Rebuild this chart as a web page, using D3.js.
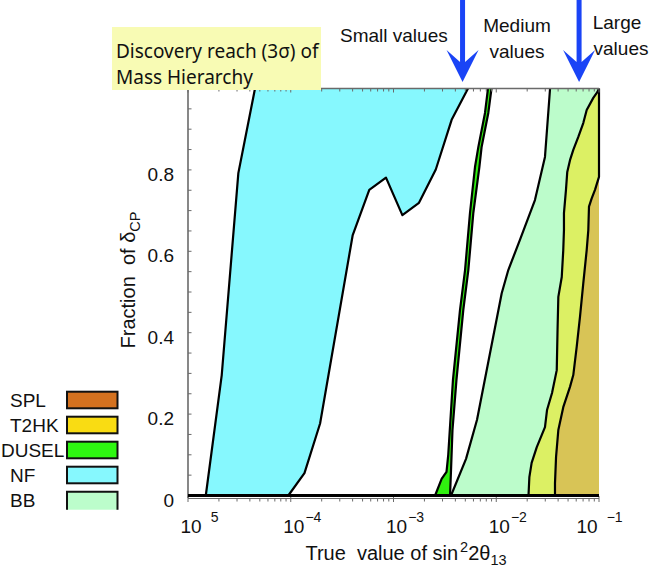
<!DOCTYPE html>
<html>
<head>
<meta charset="utf-8">
<script src="https://cdn.jsdelivr.net/npm/d3@7"></script>
<style>
  html, body { margin: 0; padding: 0; background: #fff; }
  svg { display: block; }
  text { font-family: "Liberation Sans", Arial, sans-serif; fill: #111; white-space: pre; }
</style>
</head>
<body>
<svg id="chart" width="654" height="569"></svg>
<script>
// ---------------- data ----------------
// x = true value of sin^2(2 theta13), y = fraction of deltaCP
const xDomain = [1e-5, 1e-1];
const yDomain = [0, 1];

// NF region (closed outline: left edge bottom->top, then right edge top->bottom)
const nfX = [1.49e-5, 2.13e-5, 3.09e-5, 4.49e-5, 5.31e-3, 3.68e-3, 2.58e-3, 1.77e-3, 1.22e-3, 8.45e-4, 5.81e-4, 4.01e-4, 1.93e-4, 1.36e-4, 9.47e-5];
const nfY = [0, 0.296, 0.792, 1, 1, 0.923, 0.801, 0.719, 0.689, 0.781, 0.751, 0.640, 0.177, 0.055, 0];

// DUSEL thin band: left edge bottom->top, right edge top->bottom
const duselLeftX = [2.54e-3, 2.94e-3, 3.28e-3, 3.41e-3, 3.79e-3, 4.44e-3, 4.97e-3, 5.55e-3, 6.21e-3, 6.69e-3, 7.77e-3, 8.31e-3];
const duselLeftY = [0, 0.041, 0.058, 0.100, 0.284, 0.456, 0.554, 0.694, 0.807, 0.856, 0.940, 1];
const duselRightX = [8.99e-3, 8.37e-3, 7.20e-3, 6.85e-3, 5.98e-3, 5.35e-3, 4.78e-3, 4.10e-3, 3.75e-3, 3.63e-3, 3.55e-3];
const duselRightY = [1, 0.940, 0.856, 0.807, 0.694, 0.554, 0.456, 0.284, 0.161, 0.063, 0];

// BB left edge (region extends to the right edge)
const bbX = [3.63e-3, 5.08e-3, 6.50e-3, 1.13e-2, 1.31e-2, 1.70e-2, 2.38e-2, 2.98e-2, 3.34e-2];
const bbY = [0, 0.090, 0.186, 0.497, 0.554, 0.628, 0.726, 0.832, 1];

// T2HK left edge
const t2hkX = [2.06e-2, 2.10e-2, 2.21e-2, 2.48e-2, 2.98e-2, 3.12e-2, 3.49e-2, 3.88e-2, 3.95e-2, 4.02e-2, 4.34e-2, 4.49e-2, 4.56e-2, 4.56e-2, 4.77e-2, 4.91e-2, 5.22e-2, 5.62e-2, 6.29e-2, 7.03e-2, 7.59e-2, 8.80e-2, 9.63e-2, 1e-1];
const t2hkY = [0, 0.045, 0.080, 0.119, 0.168, 0.210, 0.252, 0.308, 0.407, 0.488, 0.537, 0.603, 0.652, 0.694, 0.751, 0.795, 0.824, 0.849, 0.881, 0.915, 0.947, 0.977, 0.991, 1];

// SPL left edge
const splX = [3.73e-2, 3.73e-2, 3.82e-2, 4.02e-2, 4.49e-2, 5.22e-2, 5.62e-2, 6.07e-2, 6.53e-2, 7.03e-2, 7.59e-2, 7.87e-2, 7.99e-2, 8.49e-2, 9.14e-2, 1e-1, 1e-1];
const splY = [0, 0.030, 0.095, 0.161, 0.217, 0.267, 0.296, 0.366, 0.439, 0.521, 0.603, 0.652, 0.710, 0.730, 0.751, 0.783, 1];

// ticks & labels
const xTickExps = [-5, -4, -3, -2, -1];
const xTickSup = ["5", "\u22124", "\u22123", "\u22122", "\u22121"];
const yTickValues = [0, 0.2, 0.4, 0.6, 0.8];
const yMinorStep = 0.05;

// arrows (positions on the x axis) and their captions
const arrowValues = [4.7e-3, 6.4e-2];

// legend
const legendNames = ["SPL", "T2HK", "DUSEL", "NF", "BB"];
const legendColors = ["#d4711f", "#f9dc13", "#2ef711", "#86f8fe", "#bcfdcb"];

// colors as seen in the plot area (overlapping regions)
const fillNF = "#86f8fe", fillDUSEL = "#30f00f", fillBB = "#bcfccb", fillT2HK = "#dcf064", fillSPL = "#d8c456";

// ---------------- drawing ----------------
const svg = d3.select("#chart");
const x = d3.scaleLog().domain(xDomain).range([188, 599]);
const y = d3.scaleLinear().domain(yDomain).range([495.5, 88.5]);

const zip = (xs, ys) => xs.map((v, i) => [v, ys[i]]);
const line = d3.line().x(d => x(d[0])).y(d => y(d[1]));
const [x0, x1] = xDomain;

const nfPts = zip(nfX, nfY);
const duselPts = zip(duselLeftX, duselLeftY).concat(zip(duselRightX, duselRightY));
const bbPts = zip(bbX, bbY);
const t2Pts = zip(t2hkX, t2hkY);
const splPts = zip(splX, splY);

const gPlot = svg.append("g");
// fills
gPlot.append("path").attr("d", line(nfPts) + "Z").attr("fill", fillNF);
gPlot.append("path").attr("d", line(bbPts.concat([[x1, 1], [x1, 0]])) + "Z").attr("fill", fillBB);
gPlot.append("path").attr("d", line(duselPts) + "Z").attr("fill", fillDUSEL);
gPlot.append("path").attr("d", line(t2Pts.concat([[x1, 0]])) + "Z").attr("fill", fillT2HK);
gPlot.append("path").attr("d", line(splPts.slice(0, splPts.length - 1).concat([[x1, 0]])) + "Z").attr("fill", fillSPL);

// boundary lines
const strokes = [
  nfPts.slice(0, 4), nfPts.slice(4),
  zip(duselLeftX, duselLeftY), zip(duselRightX, duselRightY),
  bbPts, t2Pts, splPts
];
gPlot.selectAll("path.edge").data(strokes).join("path")
  .attr("class", "edge")
  .attr("d", line)
  .attr("fill", "none")
  .attr("stroke", "#000")
  .attr("stroke-width", 2.2)
  .attr("stroke-linejoin", "round");

// frame
const frame = svg.append("g").attr("stroke", "#6a6a6a").attr("fill", "none");
frame.append("line").attr("x1", x(x0)).attr("x2", x(x0)).attr("y1", y(1)).attr("y2", 498).attr("stroke-width", 1.6);
frame.append("line").attr("x1", x(x0)).attr("x2", x(x1)).attr("y1", y(1)).attr("y2", y(1)).attr("stroke-width", 1.6);
frame.append("line").attr("x1", x(x0)).attr("x2", x(x1)).attr("y1", 498.5).attr("y2", 498.5).attr("stroke-width", 1);

// log ticks (bottom outward, top inward)
const logTicks = x.ticks();
logTicks.forEach(t => {
  const major = Math.abs(Math.log10(t) - Math.round(Math.log10(t))) < 1e-6;
  frame.append("line").attr("x1", x(t)).attr("x2", x(t))
    .attr("y1", major ? 496 : 498.5).attr("y2", major ? 502 : 501.5).attr("stroke-width", 1);
  frame.append("line").attr("x1", x(t)).attr("x2", x(t))
    .attr("y1", y(1)).attr("y2", y(1) + (major ? 4 : 3)).attr("stroke-width", 1);
});
// y minor ticks inward
d3.range(0, 1.0001, yMinorStep).forEach(v => {
  frame.append("line").attr("x1", x(x0)).attr("x2", x(x0) + 3.5)
    .attr("y1", y(v)).attr("y2", y(v)).attr("stroke-width", 1);
});

// thick bottom line
svg.append("line").attr("x1", x(x0)).attr("x2", x(x1)).attr("y1", y(0)).attr("y2", y(0))
  .attr("stroke", "#000").attr("stroke-width", 3);

// y tick labels
svg.selectAll("text.ytl").data(yTickValues).join("text")
  .attr("class", "ytl")
  .attr("x", 174).attr("y", d => y(d) + 11)
  .attr("text-anchor", "end")
  .style("font-size", "19px")
  .text(d => d === 0 ? "0" : d3.format(".1f")(d));

// x tick labels
xTickExps.forEach((e, i) => {
  const last = i === xTickExps.length - 1;
  const first = i === 0;
  const cx = x(Math.pow(10, e)) + (last ? -12 : 3);
  const t = svg.append("text").attr("x", cx - 10.5).attr("y", 533).style("font-size", "19px");
  t.append("tspan").text("10");
  t.append("tspan").attr("dx", (first || last) ? 9 : 1).attr("dy", -11).style("font-size", "14px").text(xTickSup[i]);
});

// axis titles
const xt = svg.append("text").attr("x", 406).attr("y", 560).attr("text-anchor", "middle").style("font-size", "20px");
xt.append("tspan").text("True  value of sin");
xt.append("tspan").attr("dx", 2).attr("dy", -8).style("font-size", "14.5px").text("2");
xt.append("tspan").attr("dy", 8).text("2\u03b8");
xt.append("tspan").attr("dy", 5).style("font-size", "14.5px").text("13");

const yt = svg.append("text").attr("transform", "translate(135,280) rotate(-90)").attr("text-anchor", "middle").style("font-size", "20px");
yt.append("tspan").text("Fraction  of \u03b4");
yt.append("tspan").attr("dy", 5).style("font-size", "14.5px").text("CP");

// legend
const lg = svg.append("g");
legendNames.forEach((n, i) => {
  const cy = 400 + i * 25;
  lg.append("text").attr("x", n === "DUSEL" ? 1 : 10).attr("y", cy + 7).style("font-size", "19px").text(n);
  const isLast = i === legendNames.length - 1;
  lg.append("rect").attr("x", 67).attr("y", cy - 8.3).attr("width", 50.5).attr("height", isLast ? 18 : 16.6)
    .attr("fill", legendColors[i]).attr("stroke", isLast ? "none" : "#111").attr("stroke-width", 2);
  if (isLast) {
    lg.append("path").attr("d", `M67,${cy + 9.7}V${cy - 8.3}H117.5V${cy + 9.7}`)
      .attr("fill", "none").attr("stroke", "#111").attr("stroke-width", 2);
  }
});

// title box
svg.append("rect").attr("x", 112).attr("y", 27).attr("width", 209).attr("height", 63).attr("fill", "#f8fbb4");
svg.append("text").attr("x", 116).attr("y", 58).style("font-family", "'Noto Sans', 'Open Sans', sans-serif").style("font-size", "19px").text("Discovery reach (3\u03c3) of");
svg.append("text").attr("x", 116).attr("y", 84).style("font-family", "'Noto Sans', 'Open Sans', sans-serif").style("font-size", "19px").text("Mass Hierarchy");

// arrows
arrowValues.forEach(v => {
  const cx = x(v);
  svg.append("path")
    .attr("d", `M${cx - 2.5},0V62L${cx - 16},50L${cx},82L${cx + 16},50L${cx + 2.5},62V0Z`)
    .attr("fill", "#1a44f6");
});

// annotations
svg.append("text").attr("x", 340).attr("y", 42).style("font-size", "19px").text("Small values");
svg.append("text").attr("x", 517).attr("y", 32).attr("text-anchor", "middle").style("font-size", "19px").text("Medium");
svg.append("text").attr("x", 517).attr("y", 58).attr("text-anchor", "middle").style("font-size", "19px").text("values");
svg.append("text").attr("x", 617).attr("y", 29).attr("text-anchor", "middle").style("font-size", "19px").text("Large");
svg.append("text").attr("x", 621).attr("y", 55).attr("text-anchor", "middle").style("font-size", "19px").text("values");
</script>
</body>
</html>
